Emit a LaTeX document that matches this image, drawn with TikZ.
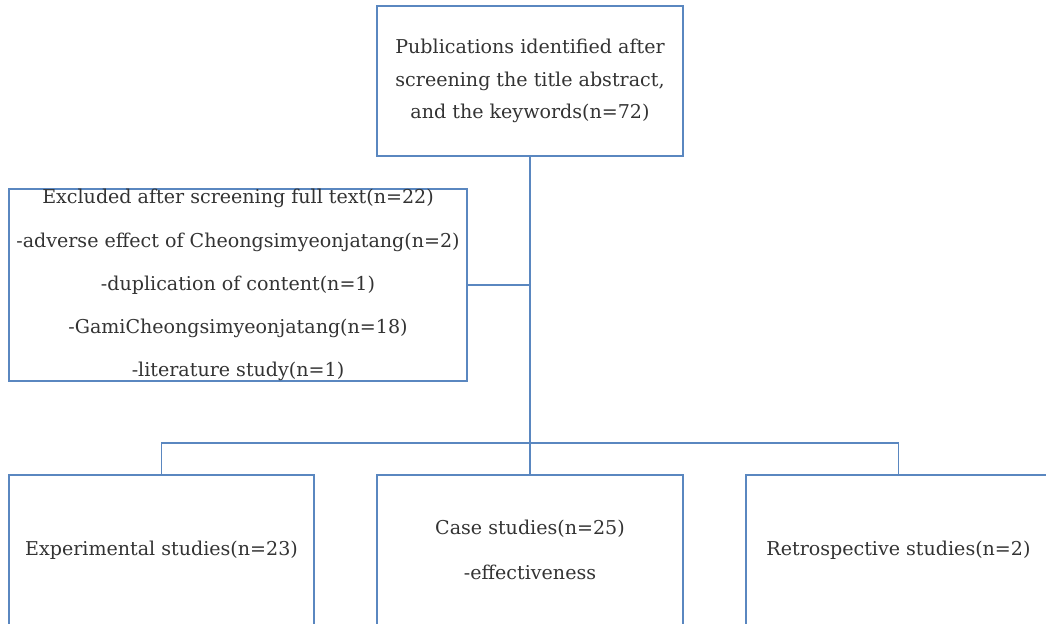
\documentclass[tikz,border=0pt]{standalone}
\usepackage{fontspec}
\setmainfont{DejaVu Serif}
\definecolor{boxblue}{HTML}{5A87C0}
\definecolor{txt}{HTML}{333333}
\begin{document}
\begin{tikzpicture}[x=0.75pt,y=-0.75pt,
  box/.style={draw=boxblue,line width=0.8pt,rectangle,inner sep=0pt,align=center,text=txt,font=\fontsize{14.3}{24.5}\selectfont},
  conn/.style={draw=boxblue,line width=0.8pt},
  mainconn/.style={draw=boxblue,line width=1.4pt}]
\useasboundingbox (0,0) rectangle (1046,624);
\clip (0,0) rectangle (1046,624);
\node[box,minimum width=306*0.75pt,minimum height=150*0.75pt] (top) at (530,81)
  {Publications identified after\\screening the title abstract,\\and the keywords(n=72)};
\node[box,minimum width=458*0.75pt,minimum height=192*0.75pt,font=\fontsize{14.3}{32.3}\selectfont] (excl) at (238,285)
  {Excluded after screening full text(n=22)\\-adverse effect of Cheongsimyeonjatang(n=2)\\-duplication of content(n=1)\\-GamiCheongsimyeonjatang(n=18)\\-literature study(n=1)};
\node[box,minimum width=305*0.75pt,minimum height=150*0.75pt] (exp) at (161.5,550)
  {Experimental studies(n=23)};
\node[box,minimum width=306*0.75pt,minimum height=150*0.75pt,font=\fontsize{14.3}{33.8}\selectfont] (case) at (530,550)
  {Case studies(n=25)\\-effectiveness};
\node[box,minimum width=305*0.75pt,minimum height=150*0.75pt] (retro) at (898.5,550)
  {Retrospective studies(n=2)};
\coordinate (j1) at (530,285);
\coordinate (j2) at (530,443);
\draw[mainconn] (top.south) -- (j2);
\draw[conn] (excl.east) -- (j1);
\draw[conn] (exp.north) |- (j2) -| (retro.north);
\draw[conn] (j2) -- (case.north);
\end{tikzpicture}
\end{document}
